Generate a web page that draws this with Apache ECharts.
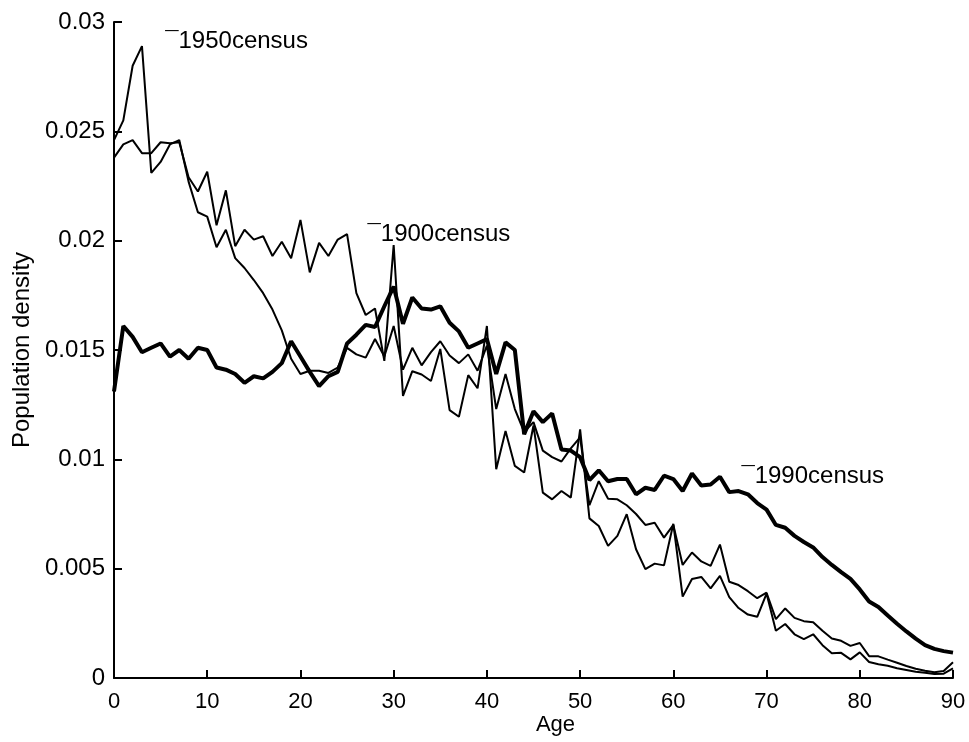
<!DOCTYPE html>
<html>
<head>
    <title>Population density by age</title>
    <style>
        body {
            margin: 0;
            background: #fff;
        }

        #chart {
            width: 969px;
            height: 742px;
        }
    </style>
    <script src="https://cdn.jsdelivr.net/npm/echarts@6/dist/echarts.min.js"></script>
</head>
<body>
    <div id="chart"></div>

    <script>
        // density values are read in units of 0.001
        var census1990 = [
            13.1, 16.1, 15.6, 14.9, 15.1, 15.3, 14.7, 15.0, 14.6, 15.1,
            15.0, 14.2, 14.1, 13.9, 13.5, 13.8, 13.7, 14.0, 14.4, 15.4,
            14.7, 14.0, 13.35, 13.8, 14.0, 15.3, 15.7, 16.15, 16.05, 17.0,
            17.9, 16.2, 17.4, 16.9, 16.85, 17.0, 16.25, 15.85, 15.1, 15.3,
            15.5, 13.9, 15.35, 15.0, 11.15, 12.2, 11.7, 12.1, 10.45, 10.4,
            10.1, 9.05, 9.5, 9.0, 9.1, 9.1, 8.4, 8.7, 8.6, 9.25,
            9.1, 8.55, 9.35, 8.8, 8.85, 9.2, 8.5, 8.55, 8.4, 8.0,
            7.7, 7.0, 6.87, 6.5, 6.22, 5.97, 5.53, 5.17, 4.84, 4.53,
            4.05, 3.5, 3.25, 2.86, 2.48, 2.13, 1.8, 1.5, 1.33, 1.23,
            1.16
        ];

        var census1950 = [
            24.6, 25.5, 28.0, 28.9, 23.1, 23.6, 24.4, 24.6, 22.7, 21.3,
            21.1, 19.7, 20.5, 19.2, 18.75, 18.2, 17.6, 16.85, 15.9, 14.6,
            13.9, 14.05, 14.05, 13.95, 14.2, 15.1, 14.8, 14.65, 15.5, 14.7,
            16.1, 14.1, 15.1, 14.3, 14.9, 15.4, 14.75, 14.4, 14.8, 14.05,
            15.2, 12.3, 13.9, 12.3, 11.25, 11.7, 10.4, 10.1, 9.9, 10.5,
            11.0, 7.9, 9.0, 8.2, 8.17, 7.9, 7.5, 7.0, 7.1, 6.42,
            7.0, 5.17, 5.74, 5.33, 5.13, 6.1, 4.4, 4.25, 3.97, 3.65,
            3.9, 2.69, 3.18, 2.75, 2.6, 2.55, 2.16, 1.81, 1.7, 1.47,
            1.6, 1.0, 0.99, 0.84, 0.7, 0.55, 0.42, 0.33, 0.26, 0.32,
            0.72
        ];

        var census1900 = [
            23.8, 24.4, 24.6, 24.0, 24.0, 24.5, 24.45, 24.5, 22.9, 22.25,
            23.15, 20.7, 22.3, 19.75, 20.5, 20.05, 20.2, 19.3, 19.95, 19.2,
            20.95, 18.55, 19.9, 19.3, 20.05, 20.3, 17.6, 16.6, 16.9, 14.5,
            19.8, 12.9, 14.03, 13.88, 13.58, 15.05, 12.25, 11.95, 13.85, 13.25,
            16.1, 9.55, 11.3, 9.7, 9.4, 11.55, 8.48, 8.17, 8.55, 8.25,
            11.37, 7.3, 6.95, 6.04, 6.5, 7.49, 5.89, 4.98, 5.23, 5.15,
            7.05, 3.72, 4.53, 4.62, 4.1, 4.67, 3.7, 3.2, 2.9, 2.8,
            3.86, 2.16, 2.47, 2.0, 1.78, 2.0, 1.5, 1.13, 1.15, 0.85,
            1.17, 0.73, 0.63, 0.56, 0.45, 0.37, 0.29, 0.24, 0.18, 0.2,
            0.44
        ];

        var seriesNames = ['1950census', '1900census', '1990census'];

        var ages = [];
        for (var a = 0; a <= 90; a++) {
            ages.push(a);
        }

        function toPairs(values) {
            return values.map(function (v, i) {
                return [ages[i], v / 1000];
            });
        }

        var font = 'Liberation Sans, Arial, sans-serif';

        function censusLine(name, values, width, labelAt) {
            return {
                name: name,
                type: 'line',
                data: toPairs(values),
                showSymbol: false,
                symbol: 'none',
                lineStyle: { color: '#000', width: width },
                z: width > 3 ? 3 : 2,
                markPoint: {
                    symbol: 'circle',
                    symbolSize: 0,
                    silent: true,
                    label: {
                        show: true,
                        position: 'right',
                        distance: 0,
                        formatter: '\u00af' + name,
                        color: '#000',
                        fontFamily: font,
                        fontSize: 24
                    },
                    data: [{ coord: labelAt }]
                }
            };
        }

        var chart = echarts.init(document.getElementById('chart'));

        var option = {
            backgroundColor: '#fff',
            animation: false,
            grid: {
                left: 114,
                right: 16,
                top: 22,
                bottom: 64,
                outerBoundsMode: 'none'
            },
            xAxis: {
                type: 'value',
                min: 0,
                max: 90,
                interval: 10,
                name: 'Age',
                nameLocation: 'middle',
                nameGap: 28,
                nameMoveOverlap: false,
                nameTextStyle: { color: '#000', fontFamily: font, fontSize: 22, padding: [0, 0, 0, 44] },
                axisLine: { show: true, onZero: false, lineStyle: { color: '#000', width: 2 } },
                axisTick: { show: true, inside: true, length: 8, lineStyle: { color: '#000', width: 2 } },
                axisLabel: { color: '#000', fontFamily: font, fontSize: 22, margin: 5 },
                splitLine: { show: false }
            },
            yAxis: {
                type: 'value',
                min: 0,
                max: 0.03,
                interval: 0.005,
                name: 'Population density',
                nameLocation: 'middle',
                nameGap: 71,
                nameMoveOverlap: false,
                nameTextStyle: { color: '#000', fontFamily: font, fontSize: 24 },
                axisLine: { show: true, lineStyle: { color: '#000', width: 2 } },
                axisTick: { show: true, inside: true, length: 8, lineStyle: { color: '#000', width: 2 } },
                axisLabel: {
                    color: '#000',
                    fontFamily: font,
                    fontSize: 24,
                    margin: 9,
                    formatter: function (v) {
                        return String(+v.toFixed(3));
                    }
                },
                splitLine: { show: false }
            },
            series: [
                censusLine(seriesNames[0], census1950, 2, [5.5, 0.0291]),
                censusLine(seriesNames[1], census1900, 2, [27.2, 0.0203]),
                censusLine(seriesNames[2], census1990, 4, [67.3, 0.0092])
            ]
        };

        chart.setOption(option);
    </script>
</body>
</html>
